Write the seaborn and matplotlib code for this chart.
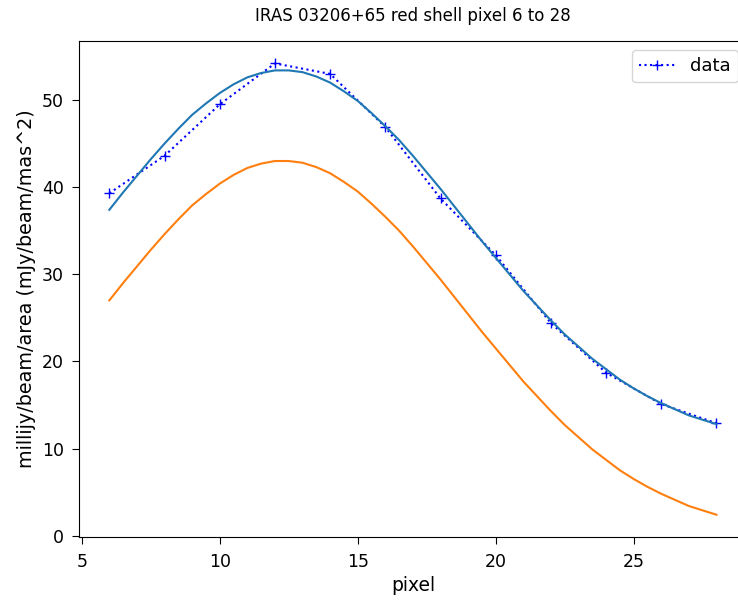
import numpy as np
import pandas as pd
import matplotlib
matplotlib.use("Agg")
import matplotlib.pyplot as plt
import seaborn as sns

# measured data points
pixel = [6, 8, 10, 12, 14, 16, 18, 20, 22, 24, 26, 28]
flux = [39.3, 43.6, 49.5, 54.2, 53.0, 46.9, 38.7, 32.2, 24.4, 18.7, 15.1, 12.9]

fit_pixel = np.arange(6, 28.5, 0.5)
fit_total = [37.4, 39.4, 41.3, 43.2, 45.0, 46.7, 48.3, 49.6, 50.8, 51.8, 52.6, 53.1,
             53.4, 53.4, 53.2, 52.7, 52.0, 51.0, 49.9, 48.5, 47.0, 45.4, 43.6, 41.7,
             39.8, 37.8, 35.8, 33.8, 31.9, 30.0, 28.1, 26.4, 24.7, 23.1, 21.7, 20.3,
             19.1, 17.9, 16.9, 16.0, 15.2, 14.5, 13.8, 13.3, 12.8]
fit_component = [27.0, 29.0, 30.9, 32.8, 34.6, 36.3, 37.9, 39.2, 40.4, 41.4, 42.2, 42.7,
                 43.0, 43.0, 42.8, 42.3, 41.6, 40.6, 39.5, 38.1, 36.6, 35.0, 33.2, 31.3,
                 29.4, 27.4, 25.4, 23.4, 21.5, 19.6, 17.7, 16.0, 14.3, 12.7, 11.3, 9.9,
                 8.7, 7.5, 6.5, 5.6, 4.8, 4.1, 3.4, 2.9, 2.4]

df = pd.DataFrame({"pixel": pixel, "flux": flux})
fit = pd.DataFrame({"pixel": fit_pixel, "total": fit_total, "component": fit_component})

fig = plt.figure(figsize=(7.38, 6.01), dpi=100)
ax = fig.add_axes([0.107, 0.106, 0.905, 0.826])

ax.plot(df["pixel"], df["flux"], "b+:", markersize=7, label="data")
sns.lineplot(data=fit, x="pixel", y="total", ax=ax, color="C0", legend=False)
sns.lineplot(data=fit, x="pixel", y="component", ax=ax, color="C1", legend=False)

ax.set_title("IRAS 03206+65 red shell pixel 6 to 28", fontsize=12, pad=14)
ax.set_xlabel("pixel", fontsize=13.5)
ax.set_ylabel("millijy/beam/area (mJy/beam/mas^2)", fontsize=13.8)
ax.tick_params(labelsize=12.5, length=5, pad=6)
ax.legend(loc="upper right", fontsize=13)

fig.savefig("out.png", dpi=100)
